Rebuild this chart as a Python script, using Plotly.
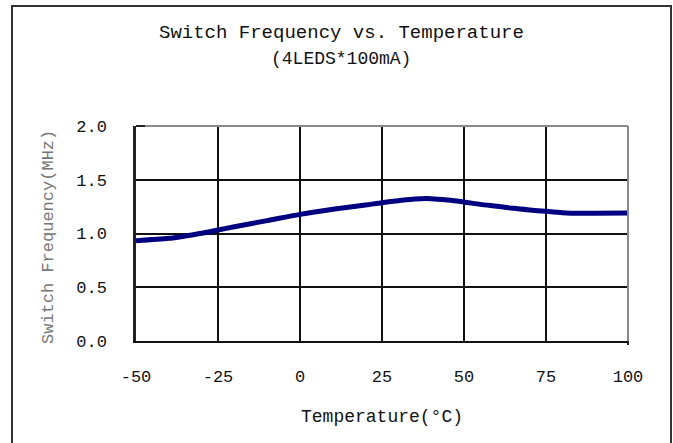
import plotly.graph_objects as go

temperature = [-50, -40, -35, -30, -25, -20, -10, 0, 10, 20, 25, 30, 35, 40, 45, 50, 55, 60, 65, 70, 75, 80, 85, 90, 100]
frequency = [0.933, 0.955, 0.977, 1.002, 1.033, 1.063, 1.12, 1.178, 1.225, 1.265, 1.287, 1.305, 1.321, 1.324,
             1.312, 1.293, 1.271, 1.253, 1.234, 1.219, 1.206, 1.194, 1.188, 1.188, 1.19]
x_ticks = [-50, -25, 0, 25, 50, 75, 100]
y_ticks = [0.0, 0.5, 1.0, 1.5, 2.0]
y_tick_labels = ["0.0", "0.5", "1.0", "1.5", "2.0"]

FONT = "Liberation Mono"
W, H = 673, 443
L, R, T, B = 136, 628, 126, 341  # plot area edges in page pixels


def px(x):
    return (x - L) / (R - L)


def py(y):
    return (B - y) / (B - T)


fig = go.Figure()
fig.add_trace(go.Scatter(
    x=temperature, y=frequency, mode="lines",
    line=dict(color="#000080", width=5, shape="spline", smoothing=0.8),
    showlegend=False, hoverinfo="skip",
))

fig.update_layout(
    width=W, height=H,
    margin=dict(l=L, r=W - R, t=T, b=H - B, pad=0),
    paper_bgcolor="white", plot_bgcolor="white",
    font=dict(family=FONT, size=17, color="#111111"),
    xaxis=dict(
        range=[-50, 100], tickvals=x_ticks, ticktext=[str(v) for v in x_ticks],
        showgrid=True, gridcolor="#111111", gridwidth=1.5,
        showline=True, linecolor="#111111", linewidth=2,
        zeroline=False, ticks="", ticklabelstandoff=19,
        tickfont=dict(family=FONT, size=17, color="#111111"),
        fixedrange=True,
    ),
    yaxis=dict(
        range=[0, 2.0], tickvals=y_ticks, ticktext=y_tick_labels,
        showgrid=True, gridcolor="#111111", gridwidth=1.5,
        showline=True, linecolor="#222222", linewidth=2.5,
        zeroline=False, ticks="", ticklabelstandoff=23,
        tickfont=dict(family=FONT, size=17, color="#111111"),
        fixedrange=True,
    ),
    shapes=[
        dict(type="line", xref="paper", yref="paper", x0=0, x1=1, y0=1, y1=1,
             line=dict(color="#8a8a8a", width=2)),
        dict(type="line", xref="paper", yref="paper", x0=1, x1=1, y0=0, y1=1,
             line=dict(color="#8a8a8a", width=2)),
        dict(type="line", xref="paper", yref="paper", x0=0, x1=px(145), y0=1, y1=1,
             line=dict(color="#222222", width=2)),
        dict(type="line", xref="paper", yref="paper", x0=1, x1=1, y0=0, y1=py(345),
             line=dict(color="#222222", width=2)),
        dict(type="rect", xref="paper", yref="paper",
             x0=px(12), x1=px(671), y0=py(470), y1=py(6),
             line=dict(color="#333333", width=2), layer="below"),
    ],
    annotations=[
        dict(text="Switch Frequency vs. Temperature", xref="paper", yref="paper",
             x=px(341), y=py(33), showarrow=False, xanchor="center", yanchor="middle",
             font=dict(family=FONT, size=19, color="#111111")),
        dict(text="(4LEDS*100mA)", xref="paper", yref="paper",
             x=px(341), y=py(59), showarrow=False, xanchor="center", yanchor="middle",
             font=dict(family=FONT, size=18, color="#111111")),
        dict(text="Temperature(°C)", xref="paper", yref="paper",
             x=px(382), y=py(417), showarrow=False, xanchor="center", yanchor="middle",
             font=dict(family=FONT, size=18, color="#111111")),
        dict(text="Switch Frequency(MHz)", xref="paper", yref="paper",
             x=px(48), y=py(237), showarrow=False, xanchor="center", yanchor="middle",
             textangle=-90, font=dict(family=FONT, size=17, color="#777777")),
    ],
)

fig.write_html(
    "out.html",
    config={"displayModeBar": False},
    post_script="document.body.style.margin='0';document.body.style.overflow='hidden';",
)
